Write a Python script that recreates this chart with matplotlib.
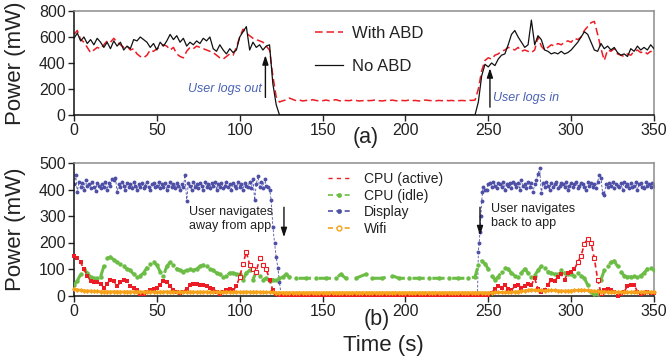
#!/usr/bin/env python3
"""Power trace: (a) total power with/without ABD, (b) per-component breakdown."""
import numpy as np
import matplotlib
matplotlib.use("Agg")
import matplotlib.pyplot as plt
from matplotlib.lines import Line2D

plt.rcParams["font.family"] = ["Liberation Sans", "DejaVu Sans"]

RED = "#ec1c24"
GREEN = "#6cbd45"
BLUE = "#4e4fa6"
ORANGE = "#f7a21b"
NOTE_BLUE = "#4a62b4"
TXT = "#222222"

# ---- panel (a): total power, sampled every 2 s ----
no_abd_a = [590, 630, 570, 600, 550, 580, 540, 590, 560, 520,
            560, 510, 570, 530, 560, 500, 530, 510, 580, 570,
            600, 580, 560, 520, 550, 500, 560, 530, 570, 620,
            580, 610, 560, 590, 530, 560, 540, 570, 550, 590,
            570, 600, 510, 490, 540, 500, 470, 510, 480, 500,
            600, 640, 680, 500, 560, 520, 540, 500, 530, 540,
            240, 80, 0]                                   # t = 0..124
no_abd_b = [0, 100, 300, 390, 370, 400, 380, 430, 460, 470,
            540, 620, 650, 600, 560, 520, 540, 730, 540, 610,
            580, 500, 490, 470, 480, 470, 490, 470, 480, 500,
            530, 560, 600, 640, 620, 560, 500, 490, 550, 510,
            530, 500, 520, 480, 460, 470, 450, 510, 490, 530,
            500, 520, 500, 540, 510]                      # t = 242..350

with_abd_a = [620, 650, 580, 560, 520, 480, 500, 520, 510, 540,
              570, 560, 590, 560, 540, 520, 530, 500, 510, 470,
              450, 440, 460, 500, 490, 510, 520, 540, 530, 500,
              520, 470, 450, 440, 490, 520, 510, 530, 520, 510,
              500, 490, 480, 460, 440, 430, 450, 470, 460, 520,
              600, 660, 630, 610, 590, 580, 570, 560, 530, 500,
              300, 140, 100]                              # t = 0..124
with_abd_idle = [110, 115, 130, 120, 110, 115, 108, 112, 110, 118,
                 112, 108, 110, 115, 110, 112, 118, 110, 108, 112,
                 110, 115, 112, 108, 110, 114, 110, 112, 116, 110,
                 108, 112, 110, 115, 110, 108, 112, 110, 114, 110,
                 112, 108, 110, 115, 112, 110, 108, 112, 110, 114,
                 110, 112, 108, 110, 112, 110, 115, 112]  # t = 126..240
with_abd_b = [115, 200, 340, 420, 440, 430, 460, 470, 490, 500,
              520, 510, 500, 520, 490, 500, 490, 480, 500, 600,
              530, 500, 520, 540, 530, 550, 540, 560, 570, 560,
              590, 580, 600, 650, 680, 710, 720, 620, 510, 420,
              500, 490, 510, 470, 460, 450, 470, 460, 490, 500,
              480, 490, 470, 490, 480]                    # t = 242..350

# ---- panel (b): components ----
# display, 1 s samples
display_a = [420, 455, 390, 430, 410, 425, 400, 435, 415, 420,
             405, 430, 410, 395, 425, 415, 405, 420, 410, 430,
             400, 425, 415, 440, 435, 445, 390, 420, 410, 430,
             415, 400, 425, 410, 420, 405, 430, 415, 400, 420,
             410, 425, 405, 415, 430, 410, 400, 420, 425, 410,
             415, 430, 405, 420, 410, 425, 400, 415, 430, 410,
             420, 405, 425, 415, 400, 420, 410, 455, 355, 425,
             415, 400, 430, 410, 420, 405, 425, 415, 400, 430,
             410, 420, 405, 425, 415, 430, 400, 420, 410, 425,
             405, 415, 430, 410, 420, 400, 425, 415, 405, 430,
             410, 420, 400, 425, 415, 410, 430, 405, 440, 360,
             420, 450, 410, 430, 405, 440, 415, 410, 400,
             360, 260, 200, 145, 105, 50, 0]              # t = 0..125
display_on_t = [243.5, 244, 244.5, 245, 245.5, 246, 246.5, 247, 248]
display_on = [0, 165, 200, 240, 300, 355, 390, 410, 400]
display_b = [400, 420, 425, 410, 430, 415, 405, 425, 420, 410,
             430, 400, 420, 415, 425, 405, 430, 420, 410, 425,
             400, 435, 415, 420, 405, 430, 410, 425, 390, 420,
             435, 460, 480, 385, 425, 410, 430, 415, 400, 425,
             410, 420, 430, 405, 415, 425, 420, 410, 430, 400,
             415, 425, 410, 420, 430, 405, 415, 425, 420, 410,
             400, 430, 415, 425, 410, 420, 405, 430, 455, 445,
             385, 380, 420, 410, 425, 415, 430, 405, 420, 415,
             410, 425, 400, 430, 415, 420, 405, 425, 410, 415,
             430, 400, 420, 425, 410, 405, 430, 415, 420, 410,
             425, 415]                                    # t = 249..350

# cpu idle, 2 s samples plus sparse points while the app is away
cpu_idle_a = [40, 55, 80, 100, 85, 70, 65, 65, 70, 110,
              140, 145, 135, 125, 120, 110, 100, 95, 80, 70,
              75, 85, 105, 120, 125, 115, 90, 75, 110, 125,
              115, 100, 95, 90, 95, 100, 95, 100, 110, 115,
              110, 100, 95, 85, 80, 70, 75, 85, 85, 80,
              80, 60, 85, 95, 60, 90, 75, 60, 65, 55,
              60, 60, 65, 70, 80]                         # t = 0..128
cpu_idle_mid_t = [130, 134, 140, 146, 152, 158, 161, 164, 170, 176, 180,
                  186, 192, 196, 202, 208, 214, 220, 226, 232, 238, 242]
cpu_idle_mid = [70, 65, 65, 65, 65, 65, 80, 65, 65, 80, 65,
                65, 75, 65, 65, 65, 65, 65, 65, 65, 65, 70]
cpu_idle_b = [115, 130, 120, 100, 75, 60, 70, 90, 105, 100,
              85, 75, 70, 85, 100, 85, 70, 75, 95, 110,
              105, 90, 85, 80, 80, 95, 85, 80, 80, 75,
              85, 75, 65, 40, 15, 5, 5, 60, 95, 110,
              125, 130, 110, 90, 75, 70, 70, 75, 70, 75,
              85, 100, 105, 95, 90]                       # t = 244..352

# cpu active and wifi, 2 s samples, t = 0..350
cpu_active = [150, 140, 125, 100, 75, 55, 50, 50, 45, 30,
              45, 60, 55, 35, 50, 60, 55, 35, 30, 20,
              5, 5, 15, 20, 25, 30, 40, 55, 50, 35,
              20, 15, 10, 15, 25, 40, 45, 45, 40, 40,
              35, 30, 25, 15, 5, 15, 20, 25, 20, 35,
              70, 120, 165, 115, 100, 90, 140, 115, 100, 60,
              20, 5, 1, 1, 1, 1, 1, 1, 1, 1,
              1, 1, 1, 1, 1, 1, 1, 1, 1, 1,
              1, 1, 1, 1, 1, 1, 1, 1, 1, 1,
              1, 1, 1, 1, 1, 1, 1, 1, 1, 1,
              1, 1, 1, 1, 1, 1, 1, 1, 1, 1,
              1, 1, 1, 1, 1, 1, 1, 1, 1, 1,
              1, 1, 1, 1, 1, 1, 10, 25, 35, 30,
              40, 25, 20, 35, 40, 30, 35, 45, 40, 65,
              25, 15, 20, 40, 60, 55, 70, 80, 60, 85,
              90, 100, 125, 150, 195, 215, 200, 140, 60, 10,
              20, 25, 20, 15, 0, 5, 15, 35, 40, 40,
              15, 5, 10, 15, 10, 10]
wifi = [25, 22, 20, 18, 18, 17, 16, 16, 15, 15,
        15, 14, 15, 15, 14, 14, 15, 14, 14, 15,
        14, 14, 15, 14, 14, 13, 14, 14, 15, 14,
        14, 13, 14, 14, 13, 14, 14, 13, 14, 13,
        14, 13, 13, 14, 13, 13, 14, 13, 13, 14,
        13, 13, 14, 13, 13, 14, 13, 13, 12, 13,
        12, 11, 11, 11, 11, 11, 11, 11, 11, 11,
        11, 11, 11, 11, 11, 11, 11, 11, 11, 11,
        11, 11, 11, 11, 11, 11, 11, 11, 11, 11,
        11, 11, 11, 11, 11, 11, 11, 11, 11, 11,
        11, 11, 11, 11, 11, 11, 11, 11, 11, 11,
        11, 11, 11, 11, 11, 11, 11, 11, 11, 11,
        11, 11, 11, 11, 11, 11, 11, 12, 12, 12,
        12, 13, 13, 14, 15, 16, 18, 20, 22, 20,
        20, 19, 18, 19, 20, 19, 18, 18, 17, 18,
        18, 19, 20, 21, 20, 19, 18, 17, 16, 15,
        15, 14, 14, 14, 13, 13, 14, 13, 13, 14,
        13, 13, 14, 13, 13, 14]

PEAK_WINDOWS = [(99, 117), (303, 319)]   # sparse samples drawn as open squares


def steps(start, vals, dt):
    return start + dt * np.arange(len(vals))


def style_axes(ax, ymax, ystep):
    ax.set_xlim(0, 350)
    ax.set_ylim(0, ymax)
    ax.set_xticks(np.arange(0, 351, 50))
    ax.set_yticks(np.arange(0, ymax + 1, ystep))
    for s in ("top", "right"):
        ax.spines[s].set_color("#8c8c8c")
    for s in ("left", "bottom"):
        ax.spines[s].set_color("#111111")
    for s in ax.spines.values():
        s.set_linewidth(1.1)
    ax.tick_params(direction="out", length=4, width=1, colors=TXT,
                   labelsize=11.5, pad=2)
    ax.set_ylabel("Power (mW)", fontsize=16, color=TXT)
    ax.yaxis.set_label_coords(-0.083, 0.5)


def panel_a(ax):
    t_no = np.concatenate([steps(0, no_abd_a, 2), steps(242, no_abd_b, 2)])
    t_with = np.concatenate([steps(0, with_abd_a, 2), steps(126, with_abd_idle, 2),
                             steps(242, with_abd_b, 2)])
    ax.plot(t_with, with_abd_a + with_abd_idle + with_abd_b, color=RED, lw=1.1,
            dashes=(5, 2.5), label="With ABD", zorder=2)
    ax.plot(t_no, no_abd_a + no_abd_b, color="#111111", lw=0.9,
            label="No ABD", zorder=3)
    style_axes(ax, 800, 200)

    arrow = dict(arrowstyle="-|>,head_width=0.18,head_length=0.55", color="#111111",
                 lw=1.0, shrinkA=0, shrinkB=0)
    ax.annotate("", xy=(115.5, 460), xytext=(115.5, 135), arrowprops=arrow)
    ax.annotate("", xy=(251, 360), xytext=(251, 60), arrowprops=arrow)
    ax.text(113.5, 200, "User logs out", ha="right", va="center", fontsize=9,
            style="italic", color=NOTE_BLUE)
    ax.text(253, 130, "User logs in", ha="left", va="center", fontsize=9,
            style="italic", color=NOTE_BLUE)
    ax.legend(loc="center left", bbox_to_anchor=(315 / 668, 1 - 50 / 360),
              bbox_transform=ax.figure.transFigure, frameon=False, fontsize=12,
              handlelength=1.65, handletextpad=0.6, labelspacing=1.05,
              borderpad=0, borderaxespad=0, labelcolor=TXT)


def panel_b(ax):
    t_disp = np.concatenate([steps(0, display_a, 1), display_on_t, steps(249, display_b, 1)])
    ax.plot(t_disp, display_a + display_on + display_b, color=BLUE, lw=0.6,
            ls=(0, (3, 2)), marker="o", ms=2.8, mew=0, zorder=2)

    t_idle = np.concatenate([steps(0, cpu_idle_a, 2), cpu_idle_mid_t, steps(244, cpu_idle_b, 2)])
    ax.plot(t_idle, cpu_idle_a + cpu_idle_mid + cpu_idle_b, color=GREEN, lw=2.2,
            dashes=(4, 2.5), marker="o", ms=3.2, mew=0, zorder=3)

    t2 = steps(0, cpu_active, 2)
    ca = np.array(cpu_active, dtype=float)
    peak = np.zeros(len(t2), dtype=bool)
    for lo, hi in PEAK_WINDOWS:
        peak |= (t2 >= lo) & (t2 <= hi)
    ax.plot(t2, ca, color=RED, lw=1.2, dashes=(3, 2), zorder=4, clip_on=False)
    ax.plot(t2[~peak], ca[~peak], ls="none", color=RED, marker="s", ms=3.0, mew=0,
            zorder=4, clip_on=False)
    ax.plot(t2[peak], ca[peak], ls="none", color=RED, marker="s", ms=3.0, mew=0.8,
            mfc="white", zorder=4)

    ax.plot(steps(0, wifi, 2), wifi, color=ORANGE, lw=1.8, marker="D", ms=2.6, mew=0,
            zorder=5, clip_on=False)
    style_axes(ax, 500, 100)

    arrow = dict(arrowstyle="-|>,head_width=0.18,head_length=0.55", color="#111111",
                 lw=1.0, shrinkA=0, shrinkB=0)
    ax.annotate("", xy=(126.7, 220), xytext=(126.7, 333), arrowprops=arrow)
    ax.annotate("", xy=(245, 227), xytext=(245, 333), arrowprops=arrow)
    ax.text(69.5, 288, "User navigates\naway from app", ha="left", va="center",
            fontsize=9, color=TXT, linespacing=1.25)
    ax.text(251.5, 301, "User navigates\nback to app", ha="left", va="center",
            fontsize=9, color=TXT, linespacing=1.25)

    handles = [
        Line2D([], [], color=RED, lw=1.0, dashes=(3, 3)),
        Line2D([], [], color=GREEN, lw=1.2, dashes=(3, 2), marker="o", ms=3.5, mew=0),
        Line2D([], [], color=BLUE, lw=1.2, dashes=(3, 2), marker="o", ms=3.5, mew=0),
        Line2D([], [], color=ORANGE, lw=1.2, dashes=(3, 2), marker="o", ms=3.5,
               mfc="white", mew=1),
    ]
    ax.legend(handles, ["CPU (active)", "CPU (idle)", "Display", "Wifi"],
              loc="center left", bbox_to_anchor=(328 / 668, 1 - 204 / 360),
              bbox_transform=ax.figure.transFigure, frameon=False, fontsize=10,
              handlelength=1.6, handletextpad=1.0, labelspacing=0.18,
              borderpad=0, borderaxespad=0, labelcolor=TXT)


def main():
    fig = plt.figure(figsize=(6.68, 3.6), dpi=100)
    ax_a = fig.add_axes([74 / 668, 1 - 115 / 360, 580 / 668, 104 / 360])
    ax_b = fig.add_axes([74 / 668, 1 - 295.5 / 360, 580 / 668, 132.5 / 360])
    panel_a(ax_a)
    panel_b(ax_b)
    fig.text(366 / 668, 1 - 138 / 360, "(a)", ha="center", va="center",
             fontsize=15.5, color=TXT)
    fig.text(377 / 668, 1 - 320 / 360, "(b)", ha="center", va="center",
             fontsize=15.5, color=TXT)
    fig.text(383 / 668, 1 - 345 / 360, "Time (s)", ha="center", va="center",
             fontsize=16, color=TXT)
    fig.savefig("out.png", dpi=100)


if __name__ == "__main__":
    main()
